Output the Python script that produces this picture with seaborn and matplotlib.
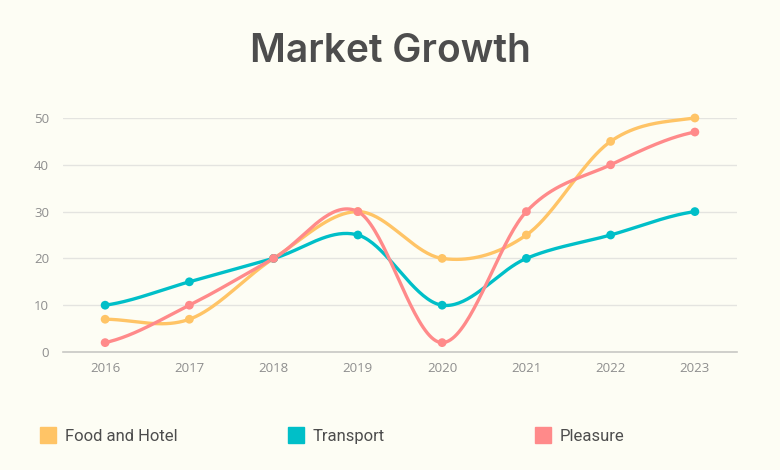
import numpy as np
import pandas as pd
import seaborn as sns
import matplotlib.pyplot as plt
from matplotlib.lines import Line2D

years = ["2016", "2017", "2018", "2019", "2020", "2021", "2022", "2023"]
food_hotel = [7, 7, 20, 30, 20, 25, 45, 50]
transport = [10, 15, 20, 25, 10, 20, 25, 30]
pleasure = [2, 10, 20, 30, 2, 30, 40, 47]

series_names = ["Food and Hotel", "Transport", "Pleasure"]
colors = ["#FFC466", "#00BFC8", "#FF8A8A"]
bg = "#FDFDF4"


def smooth(y, n=40):
    # cardinal (catmull-rom style) curve through the points
    y = np.asarray(y, dtype=float)
    k = len(y)
    m = np.zeros(k)
    m[1:-1] = (y[2:] - y[:-2]) / 2
    m[0] = (y[1] - y[0]) / 2
    m[-1] = (y[-1] - y[-2]) / 2
    xs, ys = [], []
    for i in range(k - 1):
        t = np.linspace(0, 1, n, endpoint=(i == k - 2))
        h00 = 2 * t**3 - 3 * t**2 + 1
        h10 = t**3 - 2 * t**2 + t
        h01 = -2 * t**3 + 3 * t**2
        h11 = t**3 - t**2
        xs.append(i + t)
        ys.append(h00 * y[i] + h10 * m[i] + h01 * y[i + 1] + h11 * m[i + 1])
    return np.concatenate(xs), np.concatenate(ys)


curves = []
points = []
for name, vals in zip(series_names, [food_hotel, transport, pleasure]):
    cx, cy = smooth(vals)
    curves.append(pd.DataFrame({"x": cx, "y": cy, "series": name}))
    points.append(pd.DataFrame({"x": np.arange(len(years)), "y": vals, "series": name}))
curve_df = pd.concat(curves)
point_df = pd.concat(points)

sns.set_style("white")
plt.rcParams["font.family"] = ["Roboto", "DejaVu Sans"]

fig = plt.figure(figsize=(7.8, 4.7), dpi=100, facecolor=bg)
ax = fig.add_axes([63 / 780, 1 - 352 / 470, 674 / 780, 234 / 470])
ax.set_facecolor(bg)

palette = dict(zip(series_names, colors))
sns.lineplot(data=curve_df, x="x", y="y", hue="series", palette=palette,
             linewidth=2.4, legend=False, ax=ax, clip_on=False, sort=False)
sns.scatterplot(data=point_df, x="x", y="y", hue="series", palette=palette,
                s=40, edgecolor="none", legend=False, ax=ax, clip_on=False, zorder=3)

ax.set_xlim(-0.5, 7.5)
ax.set_ylim(0, 50)
ax.set_xticks(range(len(years)))
ax.set_xticklabels(years)
ax.set_yticks([0, 10, 20, 30, 40, 50])
ax.set_xlabel("")
ax.set_ylabel("")
ax.grid(axis="y", color="#E4E4E0", linewidth=1)
ax.grid(axis="x", visible=False)
for s in ["left", "right", "top"]:
    ax.spines[s].set_visible(False)
ax.spines["bottom"].set_color("#C8C8C4")
ax.spines["bottom"].set_linewidth(1.2)
ax.tick_params(axis="both", length=0, colors="#8E8E8E", labelsize=9.5)
ax.tick_params(axis="x", pad=7)
ax.tick_params(axis="y", pad=10)
for lab in ax.get_xticklabels() + ax.get_yticklabels():
    lab.set_family(["Open Sans", "DejaVu Sans"])

fig.text(0.5, 1 - 52 / 470, "Market Growth", ha="center", va="center",
         fontsize=28, fontweight="semibold", color="#4D4D4D",
         family=["Inter", "DejaVu Sans"])

# one legend entry per slot, spaced evenly across the bottom
legend_x = [40, 288, 535]
for name, c, lx in zip(series_names, colors, legend_x):
    h = Line2D([], [], marker="s", linestyle="none", markersize=12,
               markerfacecolor=c, markeredgecolor=c)
    fig.legend([h], [name], loc="upper left",
               bbox_to_anchor=(lx / 780, 1 - 429 / 470),
               frameon=False, fontsize=12, labelcolor="#4D4D4D",
               handletextpad=0.5, handlelength=1.0, borderaxespad=0,
               borderpad=0)

fig.savefig("out.png", dpi=100, facecolor=bg)
